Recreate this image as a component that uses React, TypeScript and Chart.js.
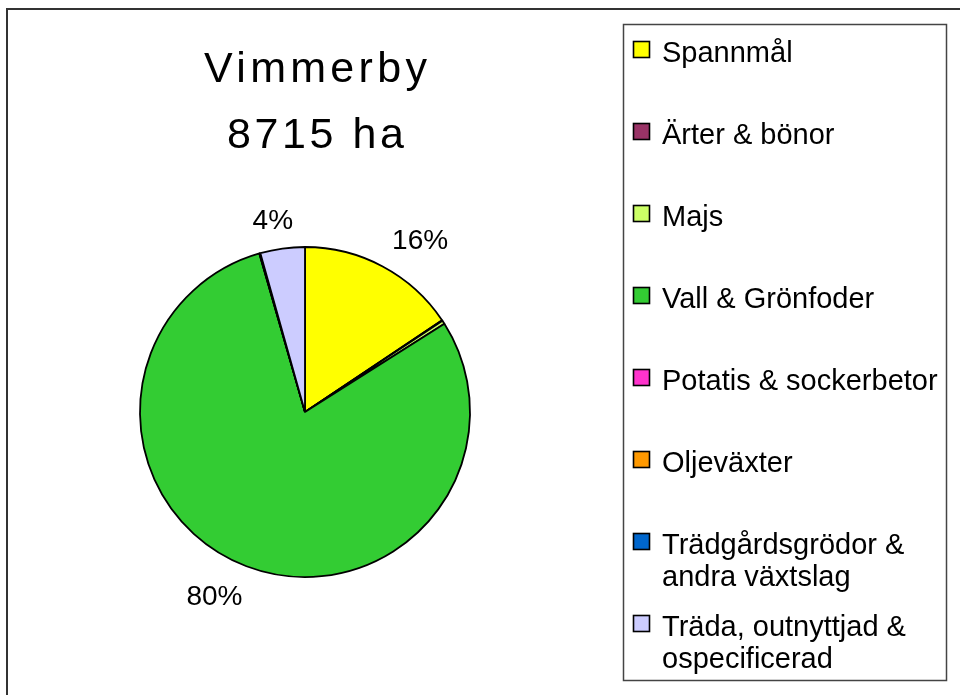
import React, { useEffect, useRef } from "react";
import { Chart, registerables } from "chart.js";

Chart.register(...registerables);

// ---- data ----
const titleLines = ["Vimmerby", "8715 ha"];
const categories = [
  "Spannmål",
  "Ärter & bönor",
  "Majs",
  "Vall & Grönfoder",
  "Potatis & sockerbetor",
  "Oljeväxter",
  "Trädgårdsgrödor & andra växtslag",
  "Träda, outnyttjad & ospecificerad",
];
const hectares = [1360, 6, 30, 6930, 2, 3, 4, 380];
const colors = [
  "#FFFF00",
  "#993366",
  "#CCFF66",
  "#33CC33",
  "#FF33CC",
  "#FF9900",
  "#0066CC",
  "#CCCCFF",
];

const FONT = '"Liberation Sans", Arial, sans-serif';

const clamp = (v: number) => Math.max(-1, Math.min(1, v));

const framePlugin = {
  id: "frame",
  beforeDraw(chart: any) {
    const ctx = chart.ctx;
    ctx.save();
    ctx.fillStyle = "#ffffff";
    ctx.fillRect(0, 0, chart.width, chart.height);
    ctx.strokeStyle = "#333333";
    ctx.lineWidth = 2;
    ctx.strokeRect(7, 9, chart.width + 20, chart.height + 20);
    ctx.restore();
  },
};

const labelPlugin = {
  id: "pctLabels",
  afterDatasetsDraw(chart: any) {
    const ctx = chart.ctx;
    const meta = chart.getDatasetMeta(0);
    const total = hectares.reduce((a, b) => a + b, 0);
    ctx.save();
    ctx.font = `28px ${FONT}`;
    ctx.fillStyle = "#000";
    ctx.textAlign = "center";
    ctx.textBaseline = "alphabetic";
    meta.data.forEach((arc: any, i: number) => {
      const pct = Math.round((hectares[i] / total) * 100);
      if (pct < 1) return;
      const { x, y, startAngle, endAngle, outerRadius } = arc.getProps(
        ["x", "y", "startAngle", "endAngle", "outerRadius"],
        true
      );
      const mid = (startAngle + endAngle) / 2;
      const r = outerRadius + 20;
      const px = x + Math.cos(mid) * r;
      const py = y + Math.sin(mid) * r;
      const text = pct + "%";
      const w = ctx.measureText(text).width;
      const capH = 20;
      const fx = clamp(2.5 * Math.cos(mid));
      const fy = clamp(-2.5 * Math.sin(mid));
      const cx = px + (fx * w) / 2;
      const cy = py - (fy * capH) / 2;
      ctx.fillText(text, cx, cy + capH / 2);
    });
    ctx.restore();
  },
};

const titlePlugin = {
  id: "bigTitle",
  afterDraw(chart: any) {
    const ctx = chart.ctx;
    ctx.save();
    ctx.font = `43px ${FONT}`;
    ctx.fillStyle = "#000";
    ctx.textAlign = "center";
    ctx.textBaseline = "alphabetic";
    const spacing = [4.3, 3.6];
    titleLines.forEach((t, i) => {
      (ctx as any).letterSpacing = spacing[i] + "px";
      ctx.fillText(t, 315.5 + spacing[i] / 2, 82 + i * 66);
    });
    (ctx as any).letterSpacing = "0px";
    ctx.restore();
  },
};

const wrap = (ctx: CanvasRenderingContext2D, text: string, maxW: number) => {
  const words = text.split(" ");
  const lines: string[] = [];
  let cur = "";
  words.forEach((w) => {
    const test = cur ? cur + " " + w : w;
    if (ctx.measureText(test).width > maxW && cur) {
      lines.push(cur);
      cur = w;
    } else cur = test;
  });
  if (cur) lines.push(cur);
  return lines;
};

const legendPlugin = {
  id: "boxLegend",
  afterDraw(chart: any) {
    const ctx = chart.ctx;
    ctx.save();
    ctx.strokeStyle = "#444444";
    ctx.lineWidth = 1.5;
    ctx.strokeRect(623.5, 24.5, 323, 656);
    ctx.font = `29px ${FONT}`;
    ctx.textAlign = "left";
    ctx.textBaseline = "alphabetic";
    categories.forEach((c, i) => {
      const y0 = 41 + i * 82;
      ctx.fillStyle = colors[i];
      ctx.fillRect(633.5, y0 + 0.5, 16, 16);
      ctx.strokeStyle = "#000";
      ctx.lineWidth = 1.6;
      ctx.strokeRect(633.5, y0 + 0.5, 16, 16);
      ctx.fillStyle = "#000";
      const lines = wrap(ctx, c, 280);
      lines.forEach((ln, j) => ctx.fillText(ln, 662, y0 + 21 + j * 32));
    });
    ctx.restore();
  },
};

export default function App() {
  const ref = useRef<HTMLCanvasElement | null>(null);
  useEffect(() => {
    if (!ref.current) return;
    const chart = new Chart(ref.current, {
      type: "pie",
      data: {
        labels: categories,
        datasets: [
          {
            data: hectares,
            backgroundColor: colors,
            borderColor: "#000000",
            borderWidth: 1.8,
            radius: 165,
          } as any,
        ],
      },
      options: {
        responsive: false,
        animation: false,
        devicePixelRatio: 1,
        layout: { padding: { left: 140, right: 490, top: 247, bottom: 118 } },
        plugins: {
          legend: { display: false },
          tooltip: { enabled: false },
          title: { display: false },
        },
      } as any,
      plugins: [framePlugin, labelPlugin, titlePlugin, legendPlugin],
    });
    return () => chart.destroy();
  }, []);
  return (
    <div style={{ position: "fixed", left: 0, top: 0, width: 960, height: 695 }}>
      <canvas
        ref={ref}
        width={960}
        height={695}
        style={{ display: "block", width: 960, height: 695 }}
      />
    </div>
  );
}
